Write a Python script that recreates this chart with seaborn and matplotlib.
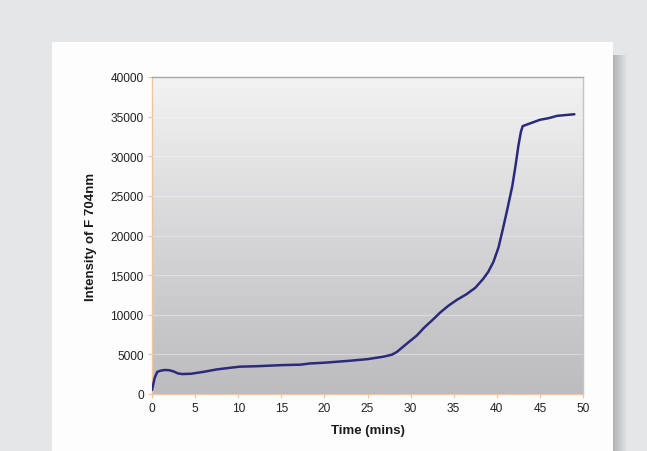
from matplotlib import pyplot as plt
from matplotlib.patches import Rectangle
import matplotlib.colors as mcolors
import pandas as pd
import seaborn as sns
import numpy as np

# values
time_mins = [0, 0.1, 0.3, 0.6, 1.0, 1.5, 2.0, 2.5, 3.0, 3.5, 4.5, 6, 7.5, 9, 10.2, 12,
             15.2, 17.2, 18.3, 20, 23, 25, 26.8, 27.8, 28.4, 29.5, 30.7, 31.6, 32.6,
             33.4, 34.4, 35.4, 36.5, 37.5, 38.4, 39.0, 39.6, 40.2, 40.7, 41.2, 41.8,
             42.2, 42.5, 42.8, 43.0, 43.5, 44, 45, 46, 47, 48, 49]
intensity = [500, 1000, 2000, 2780, 2950, 3030, 3000, 2850, 2600, 2520, 2550, 2800,
             3100, 3300, 3450, 3500, 3650, 3700, 3850, 3950, 4200, 4400, 4700, 4950,
             5300, 6300, 7360, 8400, 9400, 10250, 11150, 11900, 12600, 13400, 14500,
             15400, 16650, 18500, 20800, 23200, 26250, 29000, 31300, 33100, 33800,
             34000, 34200, 34600, 34800, 35100, 35200, 35300]
x_ticks = [0, 5, 10, 15, 20, 25, 30, 35, 40, 45, 50]
y_ticks = [0, 5000, 10000, 15000, 20000, 25000, 30000, 35000, 40000]

df = pd.DataFrame({"Time (mins)": time_mins, "Intensity of F 704nm": intensity})

sns.set_theme(style="white")
plt.rcParams['font.family'] = ['Liberation Sans', 'DejaVu Sans']

W, H = 647, 452
fig = plt.figure(figsize=(W / 100, H / 100), dpi=100)
fig.patch.set_facecolor('#e5e6e8')

# card shadow + white card
for i in range(14):
    fig.patches.append(Rectangle(((613 + i) / W, 0), 1 / W, (H - 56) / H,
                                 transform=fig.transFigure,
                                 facecolor='#8a8a8a', alpha=0.55 * (1 - i / 14),
                                 edgecolor='none', zorder=0))
fig.patches.append(Rectangle((52 / W, 0), (613 - 52) / W, (H - 43) / H,
                             transform=fig.transFigure, facecolor='#fdfdfd',
                             edgecolor='none', zorder=1))

ax = fig.add_axes([152 / W, (H - 395) / H, (583 - 152) / W, (395 - 78) / H])
ax.set_zorder(2)

# gradient plot background
cmap = mcolors.LinearSegmentedColormap.from_list('bg', ['#bcbcbe', '#d6d6d8', '#f3f3f3'])
grad = np.linspace(0, 1, 256).reshape(-1, 1)
ax.imshow(grad, cmap=cmap, aspect='auto', extent=[0, 1, 0, 1],
          transform=ax.transAxes, origin='lower', zorder=0)

for yv in y_ticks[1:-1]:
    ax.axhline(yv, color='white', linewidth=0.8, alpha=0.35, zorder=1)

sns.lineplot(ax=ax, data=df, x="Time (mins)", y="Intensity of F 704nm",
             color='#2c2a7c', linewidth=1.8, zorder=3)

ax.set_xlim(0, 50)
ax.set_ylim(0, 40000)
ax.set_xticks(x_ticks)
ax.set_yticks(y_ticks)
ax.tick_params(axis='both', direction='out', length=3, width=0.8, color='#f2c49a',
               labelsize=8.6, labelcolor='#222222', pad=3)
ax.tick_params(axis='both', bottom=True, left=True)

ax.spines['left'].set_color('#f2c49a')
ax.spines['bottom'].set_color('#f2c49a')
ax.spines['top'].set_color('#a6a6a6')
ax.spines['right'].set_color('#c4c4c4')
for s in ax.spines.values():
    s.set_linewidth(1.0)

ax.set_xlabel("Time (mins)", fontsize=9.5, fontweight='bold', color='#1a1a1a', labelpad=7)
ax.set_ylabel("Intensity of F 704nm", fontsize=9.5, fontweight='bold', color='#1a1a1a', labelpad=10)

plt.savefig("out.png", dpi=100, facecolor=fig.get_facecolor())
